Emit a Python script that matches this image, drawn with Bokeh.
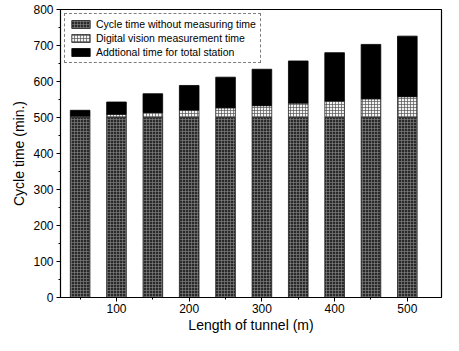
from bokeh.plotting import figure
from bokeh.models import ColumnDataSource, Range1d, FixedTicker, Legend, LegendItem
from bokeh.embed import file_html
from bokeh.resources import INLINE

lengths = [50, 100, 150, 200, 250, 300, 350, 400, 450, 500]
cycle_base = [500, 500, 500, 500, 500, 500, 500, 500, 500, 500]
digital = [4, 9, 14, 21, 27, 33, 40, 46, 52, 58]
totals = [520, 543, 566, 589, 612, 634, 657, 680, 703, 726]
additional = [t - b - d for t, b, d in zip(totals, cycle_base, digital)]
y_ticks = [0, 100, 200, 300, 400, 500, 600, 700, 800]
x_ticks = [100, 200, 300, 400, 500]

b0 = [0] * len(lengths)
b1 = cycle_base
b2 = [b + d for b, d in zip(cycle_base, digital)]
b3 = [b + d + a for b, d, a in zip(cycle_base, digital, additional)]

src = ColumnDataSource(dict(x=lengths, b0=b0, b1=b1, b2=b2, b3=b3))

FONT = "Liberation Sans"
p = figure(width=443, height=335, output_backend="svg", toolbar_location=None,
           x_range=Range1d(23, 547), y_range=Range1d(0, 800),
           min_border_left=60, min_border_right=2, min_border_top=9, min_border_bottom=20)
p.background_fill_color = "white"
p.border_fill_color = "white"
p.outline_line_color = "black"
p.outline_line_width = 1.2
p.grid.visible = False

w = 27
r1 = p.vbar(x="x", bottom="b0", top="b1", width=w, source=src,
            fill_color="#2a2a2a", line_color="#222222", line_width=0.8,
            hatch_pattern="+", hatch_color="#8a8a8a", hatch_scale=3, hatch_weight=0.6)
r2 = p.vbar(x="x", bottom="b1", top="b2", width=w, source=src,
            fill_color="#f2f2f2", line_color="#222222", line_width=0.8,
            hatch_pattern="+", hatch_color="#555555", hatch_scale=3, hatch_weight=0.7)
r3 = p.vbar(x="x", bottom="b2", top="b3", width=w, source=src,
            fill_color="black", line_color="black", line_width=0.8)

legend = Legend(items=[
    LegendItem(label="Cycle time without measuring time", renderers=[r1]),
    LegendItem(label="Digital vision measurement time", renderers=[r2]),
    LegendItem(label="Addtional time for total station", renderers=[r3]),
], location="top_left")
legend.label_text_font = FONT
legend.label_text_font_size = "10.5px"
legend.label_text_color = "black"
legend.glyph_width = 23
legend.glyph_height = 10
legend.label_height = 12
legend.spacing = 2
legend.padding = 4
legend.margin = 4
legend.label_standoff = 4
legend.border_line_color = "black"
legend.border_line_dash = "2 1"
legend.border_line_width = 1
legend.background_fill_alpha = 1
p.add_layout(legend)

p.yaxis.ticker = FixedTicker(ticks=y_ticks, minor_ticks=list(range(0, 801, 50)))
p.xaxis.ticker = FixedTicker(ticks=x_ticks, minor_ticks=[50, 150, 250, 350, 450, 550])
for ax in (p.xaxis, p.yaxis):
    ax.major_label_text_font = FONT
    ax.major_label_text_font_size = "12px"
    ax.major_label_text_color = "black"
    ax.axis_label_text_font = FONT
    ax.axis_label_text_font_size = "14px"
    ax.axis_label_text_font_style = "normal"
    ax.axis_label_text_color = "black"
    ax.axis_line_color = "black"
    ax.major_tick_line_color = "black"
    ax.minor_tick_line_color = "black"
    ax.major_tick_out = 4
    ax.major_tick_in = 0
    ax.minor_tick_out = 2
    ax.minor_tick_in = 0
p.xaxis.axis_label = "Length of tunnel (m)"
p.yaxis.axis_label = "Cycle time (min.)"
p.xaxis.major_label_standoff = 2
p.xaxis.axis_label_standoff = 1
p.yaxis.major_label_standoff = 3
p.yaxis.axis_label_standoff = 3

open("out.html", "w").write(file_html(p, INLINE))
